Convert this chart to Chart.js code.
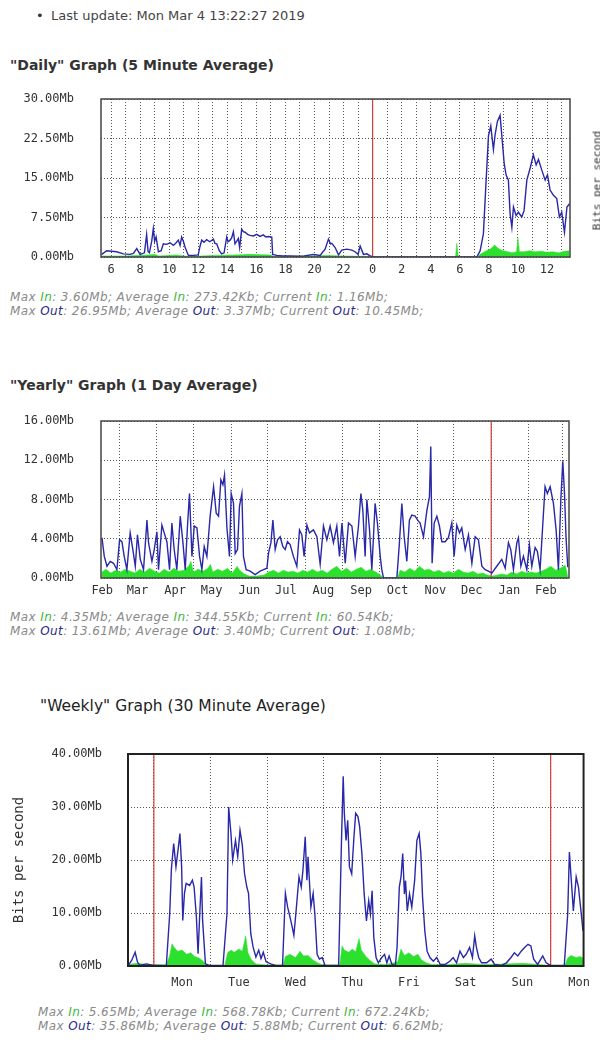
<!DOCTYPE html>
<html>
<head>
<meta charset="utf-8">
<script src="https://cdn.jsdelivr.net/npm/chart.js@4.4.1/dist/chart.umd.min.js"></script>
<style>
  body { margin: 0; width: 600px; height: 1054px; background: #fff; position: relative; overflow: hidden;
         font-family: "DejaVu Sans", sans-serif; color: #333; }
  .abs { position: absolute; white-space: nowrap; }
  h2 { margin: 0; font-size: 14px; font-weight: bold; }
  .stats { font-style: italic; font-size: 12px; letter-spacing: 0.4px; line-height: 14px; color: #8a8a8a; }
  .stats .in { color: #3cb83c; }
  .stats .out { color: #2a2a8a; }
  canvas { position: absolute; left: 0; }
  .vlabel { font-family: "DejaVu Sans Mono", monospace; font-size: 11px; color: #333;
            transform: rotate(-90deg); transform-origin: center; text-align: center; width: 110px; }
</style>
</head>
<body>

<div class="abs" style="left:36px; top:8px; font-size:13px;">&bull;</div>
<div class="abs" style="left:51px; top:8px; font-size:13px; color:#444;">Last update: Mon Mar 4 13:22:27 2019</div>

<h2 class="abs" style="left:10px; top:57px;">"Daily" Graph (5 Minute Average)</h2>
<canvas id="daily" width="600" height="200" style="top:90px"></canvas>
<div class="abs vlabel" style="left:542px; top:174px;">Bits per second</div>
<div class="abs stats" style="left:10px; top:290px;">
  Max <span class="in">In</span>: 3.60Mb; Average <span class="in">In</span>: 273.42Kb; Current <span class="in">In</span>: 1.16Mb;<br>
  Max <span class="out">Out</span>: 26.95Mb; Average <span class="out">Out</span>: 3.37Mb; Current <span class="out">Out</span>: 10.45Mb;
</div>

<h2 class="abs" style="left:10px; top:377px;">"Yearly" Graph (1 Day Average)</h2>
<canvas id="yearly" width="600" height="200" style="top:410px"></canvas>
<div class="abs stats" style="left:10px; top:610px;">
  Max <span class="in">In</span>: 4.35Mb; Average <span class="in">In</span>: 344.55Kb; Current <span class="in">In</span>: 60.54Kb;<br>
  Max <span class="out">Out</span>: 13.61Mb; Average <span class="out">Out</span>: 3.40Mb; Current <span class="out">Out</span>: 1.08Mb;
</div>

<h2 class="abs" style="left:40px; top:697px; font-size:15.5px; font-weight:normal; color:#222;">"Weekly" Graph (30 Minute Average)</h2>
<canvas id="weekly" width="600" height="260" style="top:740px"></canvas>
<div class="abs stats" style="left:38px; top:1005px;">
  Max <span class="in">In</span>: 5.65Mb; Average <span class="in">In</span>: 568.78Kb; Current <span class="in">In</span>: 672.24Kb;<br>
  Max <span class="out">Out</span>: 35.86Mb; Average <span class="out">Out</span>: 5.88Mb; Current <span class="out">Out</span>: 6.62Mb;
</div>

<script>
// ---- Daily (x = hours since midnight of Mar 3) ----
const dailyOutHours = [5.36, 5.7, 6.39, 6.85, 7.3, 7.54, 7.77, 8.0, 8.3, 8.45, 8.55, 8.64, 8.8, 8.91, 9.0, 9.1, 9.26,
  9.45, 9.6, 9.83, 10.06, 10.29, 10.45, 10.63, 10.75, 10.86, 11.0, 11.09, 11.32, 11.67, 12.0, 12.12, 12.24, 12.4,
  12.58, 12.8, 13.04, 13.15, 13.27, 13.45, 13.61, 13.78, 13.96, 14.05, 14.19, 14.3, 14.42, 14.53, 14.65, 14.76,
  14.85, 14.99, 15.1, 15.22, 15.4, 15.56, 15.8, 16.02, 16.25, 16.48, 16.65, 16.83, 17.06, 17.12, 17.4, 17.8, 18.32,
  18.8, 19.3, 19.92, 20.38, 20.73, 20.96, 21.1, 21.19, 21.42, 21.65, 21.88, 22.22, 22.57, 22.79, 23.0, 23.14, 23.37,
  23.6, 23.83, 24.05, 31.17, 31.4, 31.62, 31.81, 31.97, 32.13, 32.31, 32.43, 32.59, 32.77, 32.89, 33.05, 33.18,
  33.34, 33.46, 33.58, 33.69, 33.87, 34.03, 34.26, 34.42, 34.61, 34.84, 35.06, 35.25, 35.41, 35.64, 35.87, 36.03,
  36.21, 36.44, 36.67, 36.85, 37.01, 37.2, 37.37, 37.55];
const dailyOutMb = [0.5, 1.2, 1.0, 0.6, 0.5, 0.7, 1.6, 0.5, 0.8, 4.3, 1.0, 0.8, 3.0, 5.4, 3.0, 3.8, 1.0,
  1.2, 2.5, 2.4, 2.7, 2.2, 2.6, 3.2, 2.2, 3.8, 2.8, 1.9, 0.3, 0.3, 0.4, 2.0, 3.2, 2.8,
  3.3, 2.9, 3.4, 2.6, 2.5, 1.2, 0.6, 0.8, 3.8, 2.9, 3.2, 3.6, 4.8, 2.5, 3.0, 3.5,
  1.8, 5.3, 4.8, 4.7, 4.3, 4.1, 4.0, 4.3, 3.9, 4.2, 3.8, 3.9, 3.8, 0.5, 0.3, 0.2, 0.2,
  0.15, 0.2, 0.5, 0.3, 1.5, 3.4, 2.5, 2.6, 1.8, 0.4, 1.3, 1.5, 1.3, 1.0, 0.5, 2.1, 0.5,
  0.6, 0.2, 0, 0, 1.2, 4.4, 14.6, 23.0, 24.9, 20.4, 23.3, 25.8, 26.9, 23.0, 17.8, 15.6,
  14.6, 8.2, 5.6, 9.5, 7.9, 8.5, 7.6, 8.8, 14.6, 16.9, 19.4, 17.5, 18.5, 16.5, 14.6, 15.6,
  12.7, 11.7, 11.1, 7.6, 8.5, 4.7, 9.5, 10.1];
const dailyInHours = [5.36, 7.0, 8.5, 9.0, 9.3, 10.5, 11.3, 13.0, 14.5, 15.5, 17.0, 17.2, 21.0, 22.0, 23.9, 24.05,
  29.7, 29.79, 29.9, 31.2, 31.4, 31.7, 31.9, 32.1, 32.4, 32.6, 32.8, 33.0, 33.3, 33.6, 33.9, 34.0, 34.1, 34.4,
  34.8, 35.2, 35.6, 36.0, 36.4, 36.8, 37.2, 37.55];
const dailyInMb = [0.2, 0.2, 0.4, 0.5, 0.2, 0.4, 0.1, 0.3, 0.4, 0.5, 0.4, 0.1, 0.3, 0.2, 0.1, 0,
  0, 2.6, 0, 0, 0.5, 1.0, 1.3, 1.5, 2.3, 1.7, 1.4, 1.2, 1.0, 0.8, 1.0, 3.6, 1.0, 1.0,
  1.2, 1.0, 1.1, 0.9, 1.0, 0.8, 1.1, 1.2];
const dailyHourTicks = [6, 7, 8, 9, 10, 11, 12, 13, 14, 15, 16, 17, 18, 19, 20, 21, 22, 23, 24, 25, 26, 27, 28, 29,
  30, 31, 32, 33, 34, 35, 36, 37];
const dailyNowHour = 24;

// ---- Yearly (x = day of 2018, 0 = Jan 1 2018) ----
const yearlyOutDays = [44.8, 46.7, 48.9, 51.6, 54.3, 57.1, 59.3, 61.2, 63.1, 65.3, 68.0, 70.2, 72.2, 74.0, 76.3, 79.0,
  81.8, 83.1, 85.9, 87.8, 90.0, 91.3, 94.1, 96.0, 98.2, 100.4, 102.3, 104.2, 106.4, 109.2, 111.4, 113.3, 115.2,
  116.8, 118.8, 120.7, 122.9, 125.1, 127.0, 128.9, 131.1, 133.8, 136.6, 138.8, 140.7, 142.6, 144.3, 145.6, 147.6,
  149.7, 151.1, 153.0, 154.4, 156.3, 157.9, 159.9, 161.2, 163.4, 166.7, 170.8, 174.9, 177.7, 180.5, 181.8, 183.8,
  185.4, 187.3, 189.2, 191.4, 193.6, 195.5, 197.4, 199.6, 202.3, 205.1, 207.3, 209.2, 211.1, 213.4, 215.5, 218.8,
  221.6, 224.3, 227.0, 229.8, 232.5, 235.2, 238.0, 240.2, 242.2, 244.9, 247.6, 250.4, 253.1, 255.8, 257.8, 259.4,
  261.3, 262.7, 264.9, 266.8, 269.5, 271.4, 273.7, 275.0, 276.4, 281.9, 287.4, 289.5, 291.5, 293.4, 295.6, 297.7,
  299.7, 302.4, 304.5, 306.5, 309.3, 312.1, 314.2, 315.3, 316.4, 318.1, 320.3, 322.4, 324.4, 327.1, 329.8, 332.6,
  334.5, 336.7, 338.9, 340.8, 343.6, 346.3, 349.1, 351.8, 354.5, 357.3, 360.0, 362.7, 365.5, 369.6, 373.7, 376.5,
  379.2, 381.1, 383.3, 386.1, 387.4, 389.4, 391.5, 394.3, 396.4, 398.4, 401.1, 403.0, 405.2, 407.5, 409.3, 411.2,
  413.5, 416.2, 418.4, 420.3, 422.3, 423.9, 425.3, 426.6, 428.0];
const yearlyOutMb = [4.1, 2.2, 1.2, 1.7, 1.5, 0.85, 3.9, 3.7, 2.2, 0.85, 4.6, 2.9, 1.2, 4.4, 1.9, 0.85,
  5.9, 3.6, 1.7, 2.9, 4.7, 0.85, 5.4, 4.6, 3.7, 0.85, 5.6, 2.9, 0.85, 6.3, 3.6, 0.85, 5.4,
  8.6, 2.2, 5.3, 5.1, 2.2, 0.85, 3.2, 2.2, 6.3, 9.3, 6.6, 6.3, 10.0, 9.5, 10.5, 5.1,
  2.2, 8.6, 7.6, 2.5, 2.9, 7.3, 8.6, 2.2, 0.85, 0.7, 0.34, 0.7, 0.85, 1.0, 2.5, 3.6,
  5.9, 2.9, 3.9, 4.2, 3.2, 2.9, 3.7, 3.4, 2.2, 1.2, 4.9, 4.4, 2.2, 5.4, 4.6, 4.9,
  4.2, 1.4, 5.3, 3.9, 5.3, 3.6, 5.3, 2.2, 5.6, 1.5, 5.6, 5.3, 2.2, 5.3, 8.6, 6.9,
  2.2, 8.0, 4.9, 0.85, 7.6, 5.6, 2.2, 0.85, 0, 0, 0, 3.6, 7.6, 4.2, 1.7, 5.9,
  6.4, 6.3, 5.9, 5.6, 4.2, 6.9, 8.3, 13.4, 1.5, 5.6, 6.3, 5.3, 3.7, 3.7, 4.1, 5.6,
  2.2, 5.4, 4.6, 5.1, 2.9, 4.4, 1.5, 4.2, 3.9, 1.2, 0.85, 0.7, 0.5, 1.2, 1.9, 1.0,
  3.6, 2.9, 0.85, 3.6, 4.1, 1.2, 2.2, 0.85, 3.4, 1.2, 3.1, 2.7, 0.85, 5.6, 9.3, 8.6,
  9.3, 7.6, 4.9, 0.85, 8.0, 11.9, 8.6, 4.0, 1.1];
const yearlyInDays = [44.8, 48, 52, 56, 60, 64, 68, 72, 76, 80, 84, 88, 92, 96, 100, 104, 108, 112, 116, 118, 120,
  124, 128, 132, 134, 136, 140, 144, 148, 152, 156, 158, 162, 166, 172, 178, 182, 186, 190, 194, 198, 202, 206,
  210, 214, 218, 222, 226, 230, 234, 238, 242, 246, 250, 254, 258, 262, 266, 270, 274, 276, 288, 290, 294, 298,
  302, 306, 310, 314, 318, 322, 326, 330, 334, 338, 342, 346, 350, 354, 358, 362, 366, 370, 374, 378, 382, 386,
  390, 394, 398, 402, 406, 410, 414, 418, 422, 426, 428];
const yearlyInMb = [0.6, 0.9, 0.5, 0.8, 0.6, 0.9, 0.7, 0.5, 0.9, 0.6, 1.0, 0.7, 0.5, 0.9, 0.6, 1.0, 0.7, 0.8, 1.2, 1.7, 0.6,
  0.9, 0.7, 1.0, 1.4, 0.6, 0.9, 0.7, 1.0, 0.5, 1.2, 0.8, 0.4, 0.2, 0.2, 0.3, 0.6, 0.8, 0.5, 0.8, 0.6, 0.7, 0.5,
  0.8, 0.6, 0.9, 0.6, 0.8, 0.5, 0.9, 1.2, 0.7, 1.0, 0.6, 0.9, 1.1, 0.7, 0.9, 0.6, 0.3, 0, 0, 0.8, 0.6, 1.0,
  0.7, 1.2, 0.8, 0.9, 0.6, 0.8, 0.5, 0.7, 0.5, 0.9, 0.6, 0.5, 0.7, 0.4, 0.5, 0.3, 0.2, 0.3, 0.4, 0.3, 0.6, 0.4,
  0.7, 0.5, 0.6, 0.5, 0.7, 0.9, 1.2, 0.8, 1.0, 1.3, 0.1];
const monthStarts = [59, 90, 120, 151, 181, 212, 243, 273, 304, 334, 365, 396, 424];
const monthMids = [45, 74, 105, 135, 166, 196, 227, 258, 288, 319, 349, 380, 410];
const monthNames = ['Feb', 'Mar', 'Apr', 'May', 'Jun', 'Jul', 'Aug', 'Sep', 'Oct', 'Nov', 'Dec', 'Jan', 'Feb'];
const yearlyNowDay = 365;

// ---- Weekly (x = days since Monday 00:00) ----
const weeklyOutDays = [-0.45, -0.39, -0.33, -0.29, -0.25, -0.13, -0.01, 0.22, 0.28, 0.31, 0.35, 0.39, 0.43, 0.46,
  0.49, 0.51, 0.54, 0.57, 0.63, 0.68, 0.71, 0.75, 0.78, 0.81, 0.84, 0.86, 0.91, 0.98, 1.22, 1.29, 1.32, 1.36, 1.39,
  1.44, 1.48, 1.52, 1.56, 1.6, 1.64, 1.67, 1.71, 1.75, 1.8, 1.85, 1.89, 1.93, 1.98, 2.06, 2.15, 2.27, 2.32, 2.36,
  2.4, 2.44, 2.47, 2.51, 2.56, 2.6, 2.63, 2.67, 2.7, 2.72, 2.77, 2.81, 2.84, 2.88, 2.92, 2.97, 3.02, 3.26, 3.31,
  3.34, 3.36, 3.39, 3.42, 3.45, 3.49, 3.53, 3.56, 3.6, 3.63, 3.67, 3.71, 3.75, 3.79, 3.82, 3.85, 3.88, 3.92, 3.96,
  4.02, 4.07, 4.11, 4.15, 4.2, 4.26, 4.29, 4.33, 4.36, 4.39, 4.42, 4.44, 4.47, 4.51, 4.55, 4.6, 4.64, 4.68, 4.71,
  4.74, 4.78, 4.82, 4.87, 4.93, 4.99, 5.05, 5.14, 5.22, 5.28, 5.34, 5.4, 5.46, 5.51, 5.57, 5.62, 5.66, 5.69, 5.73,
  5.78, 5.87, 5.95, 6.01, 6.13, 6.22, 6.3, 6.36, 6.42, 6.48, 6.54, 6.6, 6.65, 6.7, 6.77, 6.86, 6.92, 7.0, 7.24,
  7.3, 7.33, 7.36, 7.4, 7.45, 7.49, 7.54, 7.57];
const weeklyOutMb = [0.1, 1.1, 2.6, 0.8, 0.1, 0.4, 0.1, 0.1, 9.9, 18.4, 23.1, 18.7, 22.2, 25.0,
  18.7, 8.6, 13.7, 15.6, 15.2, 16.2, 14.9, 9.3, 2.3, 9.9, 16.8, 8.6, 0.4, 0.1, 0.1, 9.9, 30.0, 25.0, 20.0,
  23.7, 20.6, 25.6, 22.8, 17.4, 14.9, 13.7, 6.1, 3.6, 1.7, 3.0, 1.4, 2.6, 0.8, 0.4, 0.1, 0.1, 13.7, 11.1,
  9.3, 7.4, 5.8, 10.5, 16.8, 14.9, 18.1, 24.4, 16.2, 20.6, 11.1, 13.7, 9.8, 2.2, 1.3, 1.6, 0.1, 0.1, 23.7,
  35.8, 28.8, 23.7, 27.5, 18.7, 17.4, 24.4, 28.8, 28.2, 26.3, 21.2, 13.6, 8.5, 12.3, 9.8, 14.2, 5.4, 1.6, 0.6,
  1.6, 2.2, 0.6, 1.9, 0.3, 0.1, 3.5, 14.9, 16.8, 21.2, 13.6, 16.1, 10.4, 13.6, 11.1, 16.1, 23.7, 25.0, 21.2,
  13.0, 6.6, 2.8, 1.6, 0.9, 1.6, 0.3, 0.3, 0.9, 1.6, 0.6, 2.8, 1.6, 2.2, 3.5, 1.6, 5.7, 3.5, 1.6,
  0.6, 0.6, 1.3, 0.3, 0.1, 0.6, 1.6, 2.5, 1.9, 2.8, 3.5, 4.1, 3.8, 1.3, 0.3, 1.9, 0.6, 0.1, 0.1,
  9.8, 21.5, 16.8, 10.4, 16.8, 14.9, 9.8, 6.6];
const weeklyInDays = [-0.45, -0.3, -0.1, 0.22, 0.28, 0.32, 0.36, 0.42, 0.5, 0.58, 0.65, 0.72, 0.8, 0.88, 0.92, 1.25,
  1.3, 1.36, 1.42, 1.5, 1.56, 1.62, 1.66, 1.72, 1.8, 2.0, 2.28, 2.32, 2.4, 2.5, 2.58, 2.64, 2.72, 2.8, 2.9, 3.0,
  3.28, 3.32, 3.36, 3.44, 3.5, 3.56, 3.62, 3.66, 3.74, 3.82, 3.9, 4.1, 4.3, 4.36, 4.42, 4.5, 4.58, 4.66, 4.72,
  4.8, 4.9, 5.2, 5.5, 5.8, 6.2, 6.5, 6.8, 7.0, 7.25, 7.3, 7.36, 7.45, 7.52, 7.57];
const weeklyInMb = [0.3, 0.5, 0.3, 0.2, 2.0, 4.2, 3.5, 2.8, 3.0, 2.2, 2.5, 1.8, 1.5, 0.8, 0.1, 0.1,
  2.5, 3.0, 2.6, 3.2, 2.8, 5.7, 2.5, 1.2, 0.4, 0.2, 0.2, 1.8, 2.2, 1.6, 2.8, 1.9, 2.0, 1.2, 0.5, 0.2,
  0.2, 3.8, 3.0, 2.6, 3.2, 2.7, 5.2, 3.0, 1.8, 1.0, 0.4, 0.3, 0.8, 3.2, 2.0, 2.5, 1.8, 2.2, 1.2,
  0.6, 0.3, 0.3, 0.5, 0.3, 0.4, 0.5, 0.3, 0.1, 0.1, 1.5, 2.0, 1.6, 1.8, 1.5];
const dayBounds = [0, 1, 2, 3, 4, 5, 6, 7];
const dayMids = [0.5, 1.5, 2.5, 3.5, 4.5, 5.5, 6.5, 7.5];
const dayNames = ['Mon', 'Tue', 'Wed', 'Thu', 'Fri', 'Sat', 'Sun', 'Mon'];
const weeklyNowDays = [0, 7];

const GREEN = '#2ee02e';
const BLUE = '#2828a8';
const RED = '#d23c3c';
const TICK_FONT = { family: 'DejaVu Sans Mono', size: 12 };

const zip = (xs, ys) => xs.map((x, i) => ({ x, y: ys[i] }));

// draws the box round the plot area
const frame = {
  id: 'frame',
  afterDatasetsDraw(chart, args, opts) {
    const { ctx, chartArea: a } = chart;
    ctx.save();
    ctx.strokeStyle = opts.color || '#444';
    ctx.lineWidth = opts.width || 1.5;
    ctx.strokeRect(a.left, a.top, a.right - a.left, a.bottom - a.top);
    ctx.restore();
  }
};

function trafficChart(id, o) {
  const marks = [];
  o.now.forEach((v, i) => {
    if (i > 0) marks.push({ x: v - 0.001, y: null });
    marks.push({ x: v, y: 0 }, { x: v, y: o.yMax });
  });
  return new Chart(document.getElementById(id), {
    type: 'line',
    data: {
      datasets: [
        { label: 'Out', data: o.out, borderColor: BLUE, borderWidth: 1.4, pointRadius: 0, fill: false, order: 0 },
        { label: 'now', data: marks, borderColor: RED, borderWidth: 1.2, pointRadius: 0, fill: false, spanGaps: false, order: 1 },
        { label: 'In', data: o.inn, borderColor: GREEN, borderWidth: 0.5, backgroundColor: GREEN, fill: 'origin', pointRadius: 0, order: 2 }
      ]
    },
    options: {
      responsive: false,
      animation: false,
      events: [],
      layout: { padding: o.pad },
      plugins: { legend: { display: false }, tooltip: { enabled: false }, frame: o.frame || {} },
      scales: {
        x: {
          type: 'linear', min: o.xMin, max: o.xMax,
          afterBuildTicks: ax => { ax.ticks = o.xTicks.map(v => ({ value: v })); },
          afterFit: ax => { ax.height = o.xH; },
          ticks: { autoSkip: false, maxRotation: 0, padding: o.xPad, color: '#333', font: TICK_FONT, callback: o.xLabel },
          grid: { color: o.xGrid || '#555', drawTicks: false },
          border: { display: false, dash: [1, 2] }
        },
        y: {
          min: 0, max: o.yMax,
          afterFit: ax => { ax.width = o.yW; },
          // gap between labels and plot comes from an invisible tick mark, so it does not push the plot down
          ticks: { stepSize: o.yStep, padding: 0, color: '#333', font: TICK_FONT, callback: v => v.toFixed(2) + 'Mb' },
          grid: { color: '#555', drawTicks: true, tickLength: o.yGap, tickColor: 'rgba(0,0,0,0)' },
          border: { display: false, dash: [1, 2] },
          title: o.yTitle || { display: false }
        }
      }
    },
    plugins: [frame]
  });
}

trafficChart('daily', {
  out: zip(dailyOutHours, dailyOutMb), inn: zip(dailyInHours, dailyInMb), now: [dailyNowHour],
  xMin: 5.31, xMax: 37.58, xTicks: dailyHourTicks, xH: 33, xPad: 6,
  xLabel: v => (v % 2 === 0 ? String(v % 24) : ''),
  yMax: 30, yStep: 7.5, yW: 101, yGap: 27,
  pad: { top: 9, right: 30, left: 0, bottom: 0 }
});

const yearTicks = monthStarts.concat(monthMids).sort((a, b) => a - b);
trafficChart('yearly', {
  out: zip(yearlyOutDays, yearlyOutMb), inn: zip(yearlyInDays, yearlyInMb), now: [yearlyNowDay],
  xMin: 44, xMax: 429, xTicks: yearTicks, xH: 32, xPad: 6,
  xLabel: v => (monthMids.includes(v) ? monthNames[monthMids.indexOf(v)] : ''),
  xGrid: ctx => (ctx.tick && monthStarts.includes(ctx.tick.value) ? '#555' : 'rgba(0,0,0,0)'),
  yMax: 16, yStep: 4, yW: 101, yGap: 27,
  pad: { top: 11, right: 31, left: 0, bottom: 0 }
});

const weekTicks = dayBounds.concat(dayMids).sort((a, b) => a - b);
trafficChart('weekly', {
  out: zip(weeklyOutDays, weeklyOutMb), inn: zip(weeklyInDays, weeklyInMb), now: weeklyNowDays,
  xMin: -0.456, xMax: 7.58, xTicks: weekTicks, xH: 34, xPad: 10,
  xLabel: v => (dayMids.includes(v) ? dayNames[dayMids.indexOf(v)] : ''),
  xGrid: ctx => (ctx.tick && dayBounds.includes(ctx.tick.value) ? '#555' : 'rgba(0,0,0,0)'),
  yMax: 40, yStep: 10, yW: 128, yGap: 26,
  yTitle: { display: true, text: 'Bits per second', color: '#333', font: { family: 'DejaVu Sans Mono', size: 14 }, padding: { top: 11 } },
  frame: { color: '#222', width: 2 },
  pad: { top: 14, right: 14, left: 0, bottom: 0 }
});
</script>
</body>
</html>
